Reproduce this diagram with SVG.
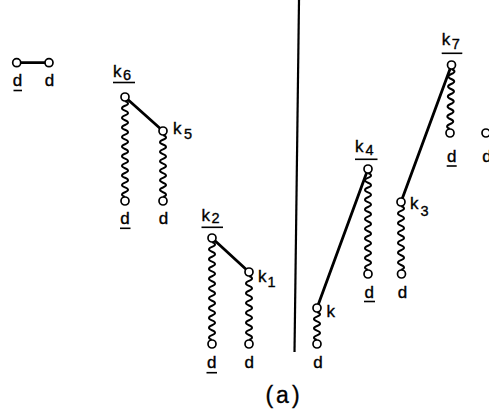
<svg xmlns="http://www.w3.org/2000/svg" width="489" height="413" viewBox="0 0 489 413">
<style>
.bg{fill:#fff}
.edge{stroke:#000;stroke-width:2.8;fill:none;stroke-linecap:round}
.wave{stroke:#000;stroke-width:2;fill:none}
.node{fill:#fff;stroke:#000;stroke-width:1.7}
.ul{stroke:#000;stroke-width:1.6}
.sep{stroke:#000;stroke-width:2.2}
text{font-family:"Liberation Sans",Arial,sans-serif;fill:#000;stroke:#000;stroke-width:0.35}
.d{font-size:17px;text-anchor:middle}
.k{font-size:17px}
.s{font-size:14.5px}
.cap{font-size:23px;text-anchor:middle;letter-spacing:3px}
</style>
<rect class="bg" width="489" height="413"/>
<line class="sep" x1="299" y1="0" x2="294.5" y2="352"/>
<g id="connectors">
<line class="edge" x1="20" y1="62.7" x2="45" y2="62.7"/>
<line class="edge" x1="125" y1="97" x2="163" y2="131"/>
<line class="edge" x1="212" y1="238" x2="249" y2="272"/>
<line class="edge" x1="317" y1="308" x2="368" y2="169"/>
<line class="edge" x1="401" y1="202" x2="451.5" y2="65"/>
<path class="wave" d="M125,101 q6,2.4 0,4.8 -6,2.4 0,4.8 6,2.4 0,4.8 -6,2.4 0,4.8 6,2.4 0,4.8 -6,2.4 0,4.8 6,2.4 0,4.8 -6,2.4 0,4.8 6,2.4 0,4.8 -6,2.4 0,4.8 6,2.4 0,4.8 -6,2.4 0,4.8 6,2.4 0,4.8 -6,2.4 0,4.8 6,2.4 0,4.8 -6,2.4 0,4.8 6,2.4 0,4.8 -6,2.4 0,4.8 6,2.4 0,4.8 -6,2.4 0,4.8"/>
<path class="wave" d="M163,135 q6,2.385 0,4.77 -6,2.385 0,4.77 6,2.385 0,4.77 -6,2.385 0,4.77 6,2.385 0,4.77 -6,2.385 0,4.77 6,2.385 0,4.77 -6,2.385 0,4.77 6,2.385 0,4.77 -6,2.385 0,4.77 6,2.385 0,4.77 -6,2.385 0,4.77 6,2.385 0,4.77"/>
<path class="wave" d="M212,242 q6,2.45 0,4.9 -6,2.45 0,4.9 6,2.45 0,4.9 -6,2.45 0,4.9 6,2.45 0,4.9 -6,2.45 0,4.9 6,2.45 0,4.9 -6,2.45 0,4.9 6,2.45 0,4.9 -6,2.45 0,4.9 6,2.45 0,4.9 -6,2.45 0,4.9 6,2.45 0,4.9 -6,2.45 0,4.9 6,2.45 0,4.9 -6,2.45 0,4.9 6,2.45 0,4.9 -6,2.45 0,4.9 6,2.45 0,4.9 -6,2.45 0,4.9"/>
<path class="wave" d="M249,276 q6,2.46 0,4.92 -6,2.46 0,4.92 6,2.46 0,4.92 -6,2.46 0,4.92 6,2.46 0,4.92 -6,2.46 0,4.92 6,2.46 0,4.92 -6,2.46 0,4.92 6,2.46 0,4.92 -6,2.46 0,4.92 6,2.46 0,4.92 -6,2.46 0,4.92 6,2.46 0,4.92"/>
<path class="wave" d="M317,312 q6,2.335 0,4.67 -6,2.335 0,4.67 6,2.335 0,4.67 -6,2.335 0,4.67 6,2.335 0,4.67 -6,2.335 0,4.67"/>
<path class="wave" d="M368,173 q6,2.425 0,4.85 -6,2.425 0,4.85 6,2.425 0,4.85 -6,2.425 0,4.85 6,2.425 0,4.85 -6,2.425 0,4.85 6,2.425 0,4.85 -6,2.425 0,4.85 6,2.425 0,4.85 -6,2.425 0,4.85 6,2.425 0,4.85 -6,2.425 0,4.85 6,2.425 0,4.85 -6,2.425 0,4.85 6,2.425 0,4.85 -6,2.425 0,4.85 6,2.425 0,4.85 -6,2.425 0,4.85 6,2.425 0,4.85 -6,2.425 0,4.85"/>
<path class="wave" d="M401,206 q6,2.46 0,4.92 -6,2.46 0,4.92 6,2.46 0,4.92 -6,2.46 0,4.92 6,2.46 0,4.92 -6,2.46 0,4.92 6,2.46 0,4.92 -6,2.46 0,4.92 6,2.46 0,4.92 -6,2.46 0,4.92 6,2.46 0,4.92 -6,2.46 0,4.92 6,2.46 0,4.92"/>
<path class="wave" d="M451.5,69 q6,2.5 -0.125,5 -6,2.5 -0.125,5 6,2.5 -0.125,5 -6,2.5 -0.125,5 6,2.5 -0.125,5 -6,2.5 -0.125,5 6,2.5 -0.125,5 -6,2.5 -0.125,5 6,2.5 -0.125,5 -6,2.5 -0.125,5 6,2.5 -0.125,5 -6,2.5 -0.125,5"/>
</g>
<g id="pair-d1">
<circle class="node" cx="16.7" cy="62.7" r="4"/>
<text class="d" x="17.5" y="86">d</text>
<line class="ul" x1="13.5" y1="90.5" x2="22" y2="90.5"/>
</g>
<g id="pair-d2">
<circle class="node" cx="49" cy="62.7" r="4"/>
<text class="d" x="49.5" y="86">d</text>
</g>
<g id="k6">
<circle class="node" cx="125" cy="97" r="4"/>
<text x="113" y="77"><tspan class="k">k</tspan><tspan class="s" dy="3" dx="1.5">6</tspan></text>
<line class="ul" x1="113" y1="82.5" x2="135" y2="82.5"/>
</g>
<g id="k6-d">
<circle class="node" cx="125" cy="201" r="4"/>
<text class="d" x="125" y="224">d</text>
<line class="ul" x1="120" y1="228.3" x2="130.5" y2="228.3"/>
</g>
<g id="k5">
<circle class="node" cx="163" cy="131" r="4"/>
<text x="173" y="134"><tspan class="k">k</tspan><tspan class="s" dy="5" dx="2.5">5</tspan></text>
</g>
<g id="k5-d">
<circle class="node" cx="163" cy="201" r="4"/>
<text class="d" x="163.5" y="224">d</text>
</g>
<g id="k2">
<circle class="node" cx="212" cy="238" r="4"/>
<text x="201.5" y="220.5"><tspan class="k">k</tspan><tspan class="s" dy="2.5" dx="1.5">2</tspan></text>
<line class="ul" x1="201.5" y1="227.3" x2="223" y2="227.3"/>
</g>
<g id="k2-d">
<circle class="node" cx="212" cy="344" r="4"/>
<text class="d" x="211.7" y="368.3">d</text>
<line class="ul" x1="206.5" y1="372.7" x2="217" y2="372.7"/>
</g>
<g id="k1">
<circle class="node" cx="249" cy="272" r="4"/>
<text x="258" y="281.5"><tspan class="k">k</tspan><tspan class="s" dy="5" dx="1">1</tspan></text>
</g>
<g id="k1-d">
<circle class="node" cx="249" cy="344" r="4"/>
<text class="d" x="249.2" y="368.3">d</text>
</g>
<g id="k">
<circle class="node" cx="317" cy="308" r="4"/>
<text class="k" x="326.5" y="317.3">k</text>
</g>
<g id="k-d">
<circle class="node" cx="317" cy="344" r="4"/>
<text class="d" x="318" y="368.3">d</text>
</g>
<g id="k4">
<circle class="node" cx="368" cy="169" r="4"/>
<text x="355" y="151.7"><tspan class="k">k</tspan><tspan class="s" dy="3.3" dx="2">4</tspan></text>
<line class="ul" x1="355" y1="159.3" x2="377.5" y2="159.3"/>
</g>
<g id="k4-d">
<circle class="node" cx="368" cy="274" r="4"/>
<text class="d" x="369.3" y="298.3">d</text>
<line class="ul" x1="364" y1="301.5" x2="375" y2="301.5"/>
</g>
<g id="k3">
<circle class="node" cx="401" cy="202" r="4"/>
<text x="410" y="209.3"><tspan class="k">k</tspan><tspan class="s" dy="7" dx="2">3</tspan></text>
</g>
<g id="k3-d">
<circle class="node" cx="401.5" cy="274" r="4"/>
<text class="d" x="402.5" y="298.3">d</text>
</g>
<g id="k7">
<circle class="node" cx="451.5" cy="65" r="4"/>
<text x="441.7" y="45"><tspan class="k">k</tspan><tspan class="s" dy="4.3" dx="1.5">7</tspan></text>
<line class="ul" x1="441.7" y1="53.3" x2="462.3" y2="53.3"/>
</g>
<g id="k7-d">
<circle class="node" cx="450" cy="133" r="4"/>
<text class="d" x="451.7" y="161.7">d</text>
<line class="ul" x1="446.7" y1="166" x2="456.7" y2="166"/>
</g>
<g id="edge-d">
<circle class="node" cx="486" cy="133" r="4"/>
<text class="d" x="487" y="161.7">d</text>
</g>
<text class="cap" x="284" y="403">(a)</text>
</svg>
